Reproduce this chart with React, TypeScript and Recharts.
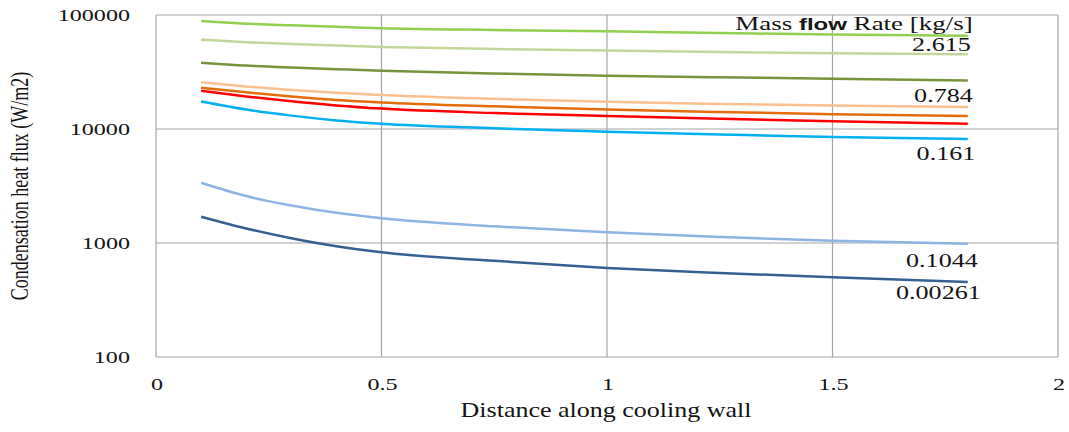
import React from 'react';
import { LineChart, Line, XAxis, YAxis, CartesianGrid, Label } from 'recharts';

const distance = [0.1, 0.2, 0.3, 0.4, 0.5, 0.75, 1, 1.25, 1.5, 1.8];

const flowA = [88500, 84000, 81100, 78700, 76600, 73900, 71900, 69500, 67400, 65900];
const flowB = [60800, 57700, 55600, 53900, 52500, 50300, 48700, 47300, 46100, 45200];
const flowC = [38200, 36000, 34600, 33500, 32500, 30700, 29300, 28400, 27600, 26700];
const flowD = [25700, 23600, 22000, 20800, 19900, 18400, 17300, 16600, 16100, 15600];
const flowE = [23000, 21000, 19300, 18000, 17100, 15800, 14800, 14100, 13500, 13000];
const flowF = [21600, 19300, 17500, 16100, 15100, 13800, 13000, 12300, 11700, 11100];
const flowG = [17400, 14800, 13100, 11900, 11100, 10150, 9480, 8950, 8500, 8170];
const flowH = [3380, 2580, 2130, 1840, 1650, 1400, 1240, 1130, 1045, 986];
const flowI = [1700, 1340, 1100, 935, 828, 697, 604, 546, 500, 455];

const xTicks = [0, 0.5, 1, 1.5, 2];
const yTicks = [100, 1000, 10000, 100000];

const seriesLabels: Record<string, string> = {
  flowB: '2.615',
  flowD: '0.784',
  flowG: '0.161',
  flowH: '0.1044',
  flowI: '0.00261',
};

const rows = distance.map((x, i) => ({
  x,
  flowA: flowA[i],
  flowB: flowB[i],
  flowC: flowC[i],
  flowD: flowD[i],
  flowE: flowE[i],
  flowF: flowF[i],
  flowG: flowG[i],
  flowH: flowH[i],
  flowI: flowI[i],
}));

const lines = [
  { key: 'flowA', color: '#92D050' },
  { key: 'flowB', color: '#C3D69B' },
  { key: 'flowC', color: '#77933C' },
  { key: 'flowD', color: '#FAC090' },
  { key: 'flowE', color: '#E46C0A' },
  { key: 'flowF', color: '#FF0000' },
  { key: 'flowG', color: '#00B0F0' },
  { key: 'flowH', color: '#8EB4E3' },
  { key: 'flowI', color: '#366092' },
];

// offsets of the end labels from the last point of each line
const labelOffset: Record<string, [number, number]> = {
  flowA: [5, -6],
  flowB: [3, -3.3],
  flowD: [5, -5.3],
  flowG: [7.5, 21],
  flowH: [10, 23],
  flowI: [13, 17.3],
};

const serif = '"Liberation Serif", "Times New Roman", serif';
const ink = '#141414';
const gridColor = '#a6a6a6';

const YTick = (props: any) => {
  const { x, y, payload } = props;
  return (
    <text
      transform={`translate(${x - 26},${y + 5.7}) scale(1.42,1)`}
      textAnchor="end"
      fontFamily={serif}
      fontSize={17}
      fill={ink}
    >
      {String(payload.value)}
    </text>
  );
};

const XTick = (props: any) => {
  const { x, y, payload } = props;
  return (
    <text
      transform={`translate(${x + 1},${y + 33}) scale(1.42,1)`}
      textAnchor="middle"
      fontFamily={serif}
      fontSize={17}
      fill={ink}
    >
      {String(payload.value)}
    </text>
  );
};

const endLabel = (key: string) => (props: any) => {
  const { cx, cy, index } = props;
  const off = labelOffset[key];
  if (index !== distance.length - 1 || !off) return <g key={`${key}-${index}`} />;
  if (key === 'flowA') {
    return (
      <text
        key={`${key}-${index}`}
        transform={`translate(${cx + off[0]},${cy + off[1]}) scale(1.5,1)`}
        textAnchor="end"
        fontFamily={serif}
        fontSize={18}
        fill={ink}
      >
        Mass{' '}
        <tspan fontFamily='"Liberation Sans", Arial, sans-serif' fontWeight="bold" fontSize={16}>
          flow
        </tspan>{' '}
        Rate [kg/s]
      </text>
    );
  }
  return (
    <text
      key={`${key}-${index}`}
      transform={`translate(${cx + off[0]},${cy + off[1]}) scale(1.45,1)`}
      textAnchor="end"
      fontFamily={serif}
      fontSize={18}
      fill={ink}
    >
      {seriesLabels[key]}
    </text>
  );
};

const XTitle = (props: any) => {
  const { x, y, width } = props.viewBox;
  return (
    <text
      transform={`translate(${x + width / 2 - 1},${y + 60}) scale(1.3,1)`}
      textAnchor="middle"
      fontFamily={serif}
      fontSize={20}
      fill={ink}
    >
      Distance along cooling wall
    </text>
  );
};

const YTitle = (props: any) => {
  const { y, height } = props.viewBox;
  return (
    <text
      transform={`translate(28,${y + height / 2}) scale(1.35,1) rotate(-90)`}
      textAnchor="middle"
      fontFamily={serif}
      fontSize={18}
      fill={ink}
    >
      Condensation heat flux (W/m2)
    </text>
  );
};

export default function App() {
  return (
    <div style={{ position: 'absolute', left: 0, top: 0, width: 1069, height: 432, background: '#fff' }}>
      <LineChart width={1069} height={432} data={rows} margin={{ top: 15, right: 11, left: 0, bottom: 0 }}>
        <CartesianGrid stroke={gridColor} strokeWidth={1.2} />
        <XAxis
          dataKey="x"
          type="number"
          domain={[0, 2]}
          ticks={xTicks}
          height={75}
          axisLine={false}
          tickLine={false}
          tickSize={0}
          tickMargin={0}
          tick={<XTick />}
        >
          <Label content={<XTitle />} />
        </XAxis>
        <YAxis
          type="number"
          scale="log"
          domain={[100, 100000]}
          ticks={yTicks}
          width={156}
          axisLine={false}
          tickLine={false}
          tickSize={0}
          tickMargin={0}
          tick={<YTick />}
        >
          <Label content={<YTitle />} />
        </YAxis>
        {lines.map((l) => (
          <Line
            key={l.key}
            type="monotone"
            dataKey={l.key}
            stroke={l.color}
            strokeWidth={2.5}
            dot={endLabel(l.key)}
            activeDot={false}
            isAnimationActive={false}
          />
        ))}
      </LineChart>
    </div>
  );
}
